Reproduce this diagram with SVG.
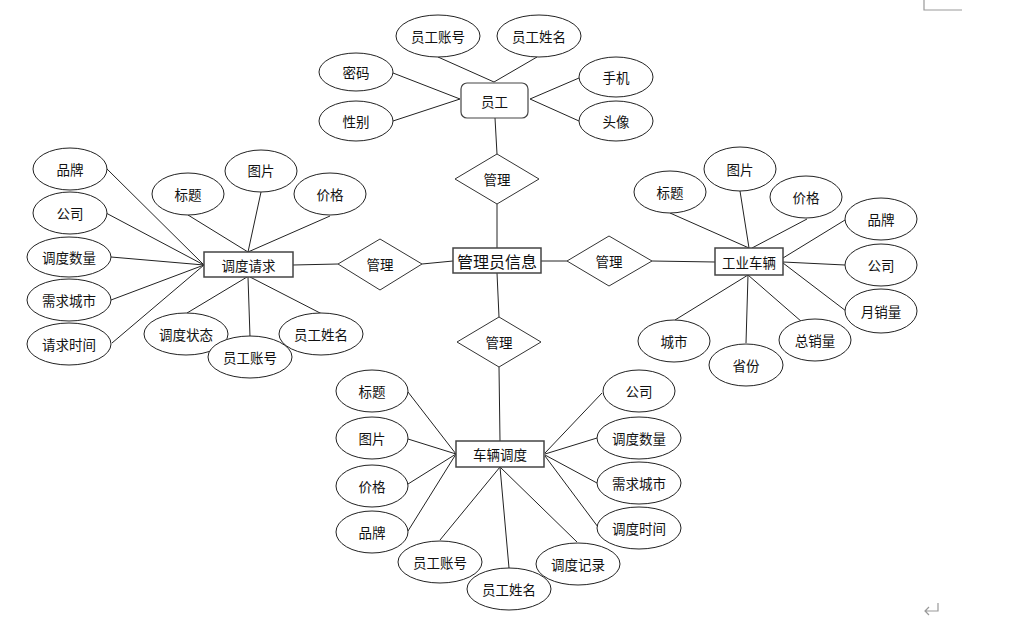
<svg xmlns="http://www.w3.org/2000/svg" width="1009" height="617" viewBox="0 0 1009 617">
<style>
.e{fill:#fff;stroke:#222;stroke-width:1}
.r{fill:#fff;stroke:#444;stroke-width:1.5}
.d{fill:#fff;stroke:#333;stroke-width:1}
.l{stroke:#222;stroke-width:1;fill:none}
text{font-family:"Noto Sans CJK SC","Liberation Sans",sans-serif;font-size:13.5px;fill:#111;text-anchor:middle;dominant-baseline:central}
.big{font-size:16px}
</style>
<rect width="1009" height="617" fill="#fff"/>
<g id="page-marks" fill="none" stroke="#999" stroke-width="1.2">
<path d="M924 0V10H962"/>
<path d="M938 603V611H925M929 607L925 611L929 615"/>
</g>
<g id="connectors" class="l">
<path d="M438 57L494 82M537 57L494 82M393 73L460 99M393 121L460 99M579 78L530 99M579 121L530 99M495 118L497 154"/>
<path d="M497 204L497 248M422 264L453 261M541 261L567 261M497 273L499 317"/>
<path d="M293 265L338 264"/>
<path d="M106 168L204 265M106 213L204 265M111 257L204 265M111 300L204 265M112 343L204 265"/>
<path d="M188 215L248 252M261 192L248 252M330 216L248 252"/>
<path d="M187 313L247 277M250 337L248 277M322 314L250 277"/>
<path d="M652 261L715 262"/>
<path d="M670 213L749 248M740 191L749 248M807 219L752 248"/>
<path d="M845 220L783 258M845 265L783 262M846 311L783 263"/>
<path d="M675 320L748 275M746 343L748 275M802 322L748 275"/>
<path d="M499 367L500 441"/>
<path d="M408 392L456 454M408 439L456 454M408 484L456 454M408 531L456 454"/>
<path d="M602 393L545 453M597 438L545 454M597 483L545 455M598 527L545 456"/>
<path d="M440 540L500 467M509 568L500 467M577 542L500 467"/>
</g>
<g id="员工"><rect class="r" x="461" y="83" width="67" height="35" rx="6" style="stroke-width:1.2"/><text x="494.5" y="100.5">员工</text></g>
<g id="员工-员工账号"><ellipse class="e" cx="438" cy="36" rx="42" ry="21"/><text x="438" y="36">员工账号</text></g>
<g id="员工-员工姓名"><ellipse class="e" cx="539" cy="36" rx="42" ry="21"/><text x="539" y="36">员工姓名</text></g>
<g id="员工-密码"><ellipse class="e" cx="356" cy="72" rx="37" ry="19"/><text x="356" y="72">密码</text></g>
<g id="员工-性别"><ellipse class="e" cx="356" cy="121" rx="37" ry="20"/><text x="356" y="121">性别</text></g>
<g id="员工-手机"><ellipse class="e" cx="616" cy="77" rx="37" ry="20"/><text x="616" y="77">手机</text></g>
<g id="员工-头像"><ellipse class="e" cx="616" cy="121" rx="37" ry="20"/><text x="616" y="121">头像</text></g>

<g id="管理-top"><polygon class="d" points="497,154 539,179 497,204 455,179"/><text x="497" y="179">管理</text></g>
<g id="管理员信息"><rect class="r" x="453" y="248" width="88" height="25"/><text class="big" x="497" y="260.5">管理员信息</text></g>
<g id="管理-left"><polygon class="d" points="380,239 422,264 380,290 338,264"/><text x="380" y="264">管理</text></g>
<g id="管理-right"><polygon class="d" points="609,236 652,261 609,286 567,261"/><text x="609" y="261">管理</text></g>
<g id="管理-bottom"><polygon class="d" points="499,317 541,342 499,367 457,342"/><text x="499" y="342">管理</text></g>

<g id="调度请求"><rect class="r" x="204" y="252" width="89" height="25"/><text x="248.5" y="264.5">调度请求</text></g>
<g id="调度请求-品牌"><ellipse class="e" cx="70" cy="169" rx="37" ry="21"/><text x="70" y="169">品牌</text></g>
<g id="调度请求-公司"><ellipse class="e" cx="70" cy="213" rx="37" ry="21"/><text x="70" y="213">公司</text></g>
<g id="调度请求-调度数量"><ellipse class="e" cx="69" cy="257" rx="42" ry="20"/><text x="69" y="257">调度数量</text></g>
<g id="调度请求-需求城市"><ellipse class="e" cx="69" cy="300" rx="42" ry="21"/><text x="69" y="300">需求城市</text></g>
<g id="调度请求-请求时间"><ellipse class="e" cx="69" cy="344" rx="42" ry="21"/><text x="69" y="344">请求时间</text></g>
<g id="调度请求-标题"><ellipse class="e" cx="188" cy="194" rx="36" ry="21"/><text x="188" y="194">标题</text></g>
<g id="调度请求-图片"><ellipse class="e" cx="261" cy="171" rx="36" ry="21"/><text x="261" y="170">图片</text></g>
<g id="调度请求-价格"><ellipse class="e" cx="330" cy="194" rx="36" ry="21"/><text x="330" y="194">价格</text></g>
<g id="调度请求-调度状态"><ellipse class="e" cx="186" cy="334" rx="42" ry="21"/><text x="186" y="334">调度状态</text></g>
<g id="调度请求-员工姓名"><ellipse class="e" cx="321" cy="334" rx="42" ry="21"/><text x="321" y="334">员工姓名</text></g>
<g id="调度请求-员工账号"><ellipse class="e" cx="250" cy="357" rx="42" ry="21"/><text x="250" y="357">员工账号</text></g>

<g id="工业车辆"><rect class="r" x="715" y="248" width="68" height="27"/><text x="749" y="261.5">工业车辆</text></g>
<g id="工业车辆-标题"><ellipse class="e" cx="670" cy="192" rx="36" ry="21"/><text x="670" y="192">标题</text></g>
<g id="工业车辆-图片"><ellipse class="e" cx="740" cy="169" rx="36" ry="22"/><text x="740" y="169">图片</text></g>
<g id="工业车辆-价格"><ellipse class="e" cx="806" cy="197" rx="36" ry="21"/><text x="806" y="197">价格</text></g>
<g id="工业车辆-品牌"><ellipse class="e" cx="881" cy="219" rx="36" ry="21"/><text x="881" y="219">品牌</text></g>
<g id="工业车辆-公司"><ellipse class="e" cx="881" cy="265" rx="36" ry="21"/><text x="881" y="265">公司</text></g>
<g id="工业车辆-月销量"><ellipse class="e" cx="881" cy="311" rx="36" ry="22"/><text x="881" y="311">月销量</text></g>
<g id="工业车辆-城市"><ellipse class="e" cx="674" cy="341" rx="36" ry="21"/><text x="674" y="341">城市</text></g>
<g id="工业车辆-省份"><ellipse class="e" cx="746" cy="365" rx="37" ry="21"/><text x="746" y="365">省份</text></g>
<g id="工业车辆-总销量"><ellipse class="e" cx="815" cy="340" rx="36" ry="21"/><text x="815" y="340">总销量</text></g>

<g id="车辆调度"><rect class="r" x="456" y="441" width="88" height="26"/><text x="500" y="454">车辆调度</text></g>
<g id="车辆调度-标题"><ellipse class="e" cx="372" cy="391" rx="36" ry="21"/><text x="372" y="391">标题</text></g>
<g id="车辆调度-图片"><ellipse class="e" cx="372" cy="438" rx="36" ry="21"/><text x="372" y="438">图片</text></g>
<g id="车辆调度-价格"><ellipse class="e" cx="372" cy="486" rx="36" ry="21"/><text x="372" y="486">价格</text></g>
<g id="车辆调度-品牌"><ellipse class="e" cx="372" cy="532" rx="36" ry="21"/><text x="372" y="532">品牌</text></g>
<g id="车辆调度-公司"><ellipse class="e" cx="639" cy="391" rx="36" ry="21"/><text x="639" y="391">公司</text></g>
<g id="车辆调度-调度数量"><ellipse class="e" cx="639" cy="438" rx="42" ry="21"/><text x="639" y="438">调度数量</text></g>
<g id="车辆调度-需求城市"><ellipse class="e" cx="639" cy="483" rx="42" ry="21"/><text x="639" y="483">需求城市</text></g>
<g id="车辆调度-调度时间"><ellipse class="e" cx="639" cy="528" rx="42" ry="21"/><text x="639" y="528">调度时间</text></g>
<g id="车辆调度-员工账号"><ellipse class="e" cx="440" cy="562" rx="42" ry="21"/><text x="440" y="562">员工账号</text></g>
<g id="车辆调度-调度记录"><ellipse class="e" cx="578" cy="564" rx="42" ry="21"/><text x="578" y="564">调度记录</text></g>
<g id="车辆调度-员工姓名"><ellipse class="e" cx="509" cy="589" rx="42" ry="21"/><text x="509" y="589">员工姓名</text></g>
</svg>
